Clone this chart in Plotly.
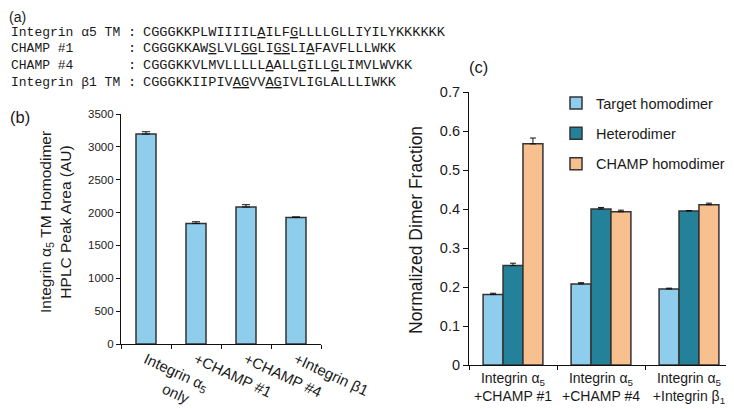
import plotly.graph_objects as go

W, H = 734, 409
# the page body has an 8px margin: place everything relative to the visible window
OX, OY = 8, 8

# ---------------- data ----------------
seq_labels = ["Integrin α5 TM", "CHAMP #1", "CHAMP #4", "Integrin β1 TM"]
sequences = [
    "CGGGKKPLWIIIILAILFGLLLLGLLIYILYKKKKKK",
    "CGGGKKAWSLVLGGLIGSLIAFAVFLLLWKK",
    "CGGGKKVLMVLLLLLAALLGILLGLIMVLWVKK",
    "CGGGKKIIPIVAGVVAGIVLIGLALLLIWKK",
]
underlined_pos = [[14, 18], [8, 12, 13, 16, 17, 20], [15, 19, 23], [11, 12, 15, 16]]

b_categories = ["Integrin α<sub>5</sub><br>\u00a0\u00a0\u00a0\u00a0\u00a0\u00a0\u00a0only",
                "+CHAMP #1", "+CHAMP #4", "+Integrin β1"]
b_values = [3195, 1835, 2085, 1925]
b_errors = [35, 25, 35, 10]

c_categories = ["Integrin α<sub>5</sub><br>+CHAMP #1",
                "Integrin α<sub>5</sub><br>+CHAMP #4",
                "Integrin α<sub>5</sub><br>+Integrin β<sub>1</sub>"]
c_series = ["Target homodimer", "Heterodimer", "CHAMP homodimer"]
c_target = [0.181, 0.208, 0.195]
c_target_err = [0.003, 0.003, 0.002]
c_hetero = [0.255, 0.400, 0.395]
c_hetero_err = [0.006, 0.004, 0.001]
c_champ = [0.567, 0.393, 0.411]
c_champ_err = [0.015, 0.004, 0.004]

# ---------------- style ----------------
LIGHT = "#8ECEEC"
TEAL = "#23819A"
PEACH = "#F9C08F"
EDGE = "#333333"
SANS = "Liberation Sans, Arial, Helvetica, sans-serif"
MONO = "Liberation Mono, Courier New, monospace"
TXT = "#1a1a1a"


def px_x(x):
    return max(x - OX, 0) / W


def px_y(y):
    return 1 - max(y - OY, 0) / H


fig = go.Figure()

# panel (b)
fig.add_trace(go.Bar(
    x=b_categories, y=b_values, width=0.4,
    marker=dict(color=LIGHT, line=dict(color=EDGE, width=1.5)),
    error_y=dict(type="data", array=b_errors, arrayminus=[0] * len(b_errors),
                 symmetric=False, color="#111", thickness=1, width=4),
    xaxis="x", yaxis="y", showlegend=False,
))

# panel (c)
for name, vals, errs, col, grp in [
    (c_series[0], c_target, c_target_err, LIGHT, "g1"),
    (c_series[1], c_hetero, c_hetero_err, TEAL, "g2"),
    (c_series[2], c_champ, c_champ_err, PEACH, "g3"),
]:
    fig.add_trace(go.Bar(
        x=c_categories, y=vals, name=name, legendgroup=grp,
        marker=dict(color=col, line=dict(color=EDGE, width=1.5)),
        error_y=dict(type="data", array=errs, arrayminus=[0] * len(errs),
                     symmetric=False, color="#111", thickness=1, width=3),
        xaxis="x2", yaxis="y2",
    ))

axis_common = dict(showline=True, linecolor="#111", linewidth=1.2, ticks="outside",
                   tickcolor="#111", tickwidth=1.2, showgrid=False, zeroline=False,
                   fixedrange=True, automargin=False)

fig.update_layout(
    width=W, height=H, autosize=False,
    margin=dict(l=0, r=0, t=0, b=0, pad=0),
    paper_bgcolor="white", plot_bgcolor="white",
    font=dict(family=SANS, color=TXT),
    barmode="group", bargap=0.32, bargroupgap=0,
    xaxis=dict(axis_common, domain=[px_x(121), px_x(321)], anchor="y",
               type="category", range=[-0.5, 3.5], tickson="boundaries",
               ticklen=4, tickangle=25, tickfont=dict(size=15, color=TXT)),
    yaxis=dict(axis_common, domain=[px_y(344), px_y(114)], anchor="x",
               range=[0, 3500], dtick=500, ticklen=4,
               tickfont=dict(size=11.5, color=TXT)),
    xaxis2=dict(axis_common, domain=[px_x(469), px_x(733)], anchor="y2",
                type="category", range=[-0.5, 2.5], tickson="boundaries",
                ticklen=4, tickangle=0, tickfont=dict(size=14, color=TXT)),
    yaxis2=dict(axis_common, domain=[px_y(365), px_y(92)], anchor="x2",
                range=[0, 0.7], dtick=0.1, ticklen=5,
                tickfont=dict(size=14.5, color=TXT)),
    legend=dict(x=px_x(556), y=px_y(87), xanchor="left", yanchor="top",
                font=dict(size=14.5, color=TXT), bgcolor="rgba(0,0,0,0)",
                traceorder="grouped", tracegroupgap=8.5, itemwidth=30),
)

ann = []
# panel labels
ann.append(dict(text="(a)", x=px_x(2), y=px_y(8), xref="paper", yref="paper",
                xanchor="left", yanchor="top", showarrow=False, borderpad=0,
                font=dict(size=14, family=SANS, color=TXT)))
for lab, x, y in [("(b)", 2, 117), ("(c)", 467, 67)]:
    ann.append(dict(text=lab, x=px_x(x), y=px_y(y), xref="paper", yref="paper",
                    xanchor="left", yanchor="middle", showarrow=False,
                    font=dict(size=16.5, family=SANS, color=TXT)))

# sequences
row_y = [32, 48.7, 65.3, 82]
for lab, seq, pos, y in zip(seq_labels, sequences, underlined_pos, row_y):
    marked = "".join(f"<u>{ch}</u>" if i in pos else ch for i, ch in enumerate(seq))
    ann.append(dict(text=lab, x=px_x(10), y=px_y(y), xref="paper", yref="paper",
                    xanchor="left", yanchor="middle", showarrow=False, borderpad=0,
                    font=dict(size=13, family=MONO, color=TXT)))
    ann.append(dict(text=":", x=px_x(132), y=px_y(y), xref="paper", yref="paper",
                    xanchor="center", yanchor="middle", showarrow=False, borderpad=0,
                    font=dict(size=13.6, family=MONO, color=TXT)))
    ann.append(dict(text=marked, x=px_x(142), y=px_y(y), xref="paper", yref="paper",
                    xanchor="left", yanchor="middle", showarrow=False, borderpad=0,
                    font=dict(size=13.6, family=MONO, color=TXT)))

# axis titles
ann.append(dict(text="Integrin α<sub>5</sub> TM Homodimer<br>HPLC Peak Area (AU)",
                x=px_x(55), y=px_y(222), xref="paper", yref="paper",
                xanchor="center", yanchor="middle", textangle=-90, showarrow=False,
                font=dict(size=15.5, family=SANS, color=TXT)))
ann.append(dict(text="Normalized Dimer Fraction",
                x=px_x(416), y=px_y(230), xref="paper", yref="paper",
                xanchor="center", yanchor="middle", textangle=-90, showarrow=False,
                font=dict(size=17.5, family=SANS, color=TXT)))

fig.update_layout(annotations=ann)

fig.write_html("out.html")
